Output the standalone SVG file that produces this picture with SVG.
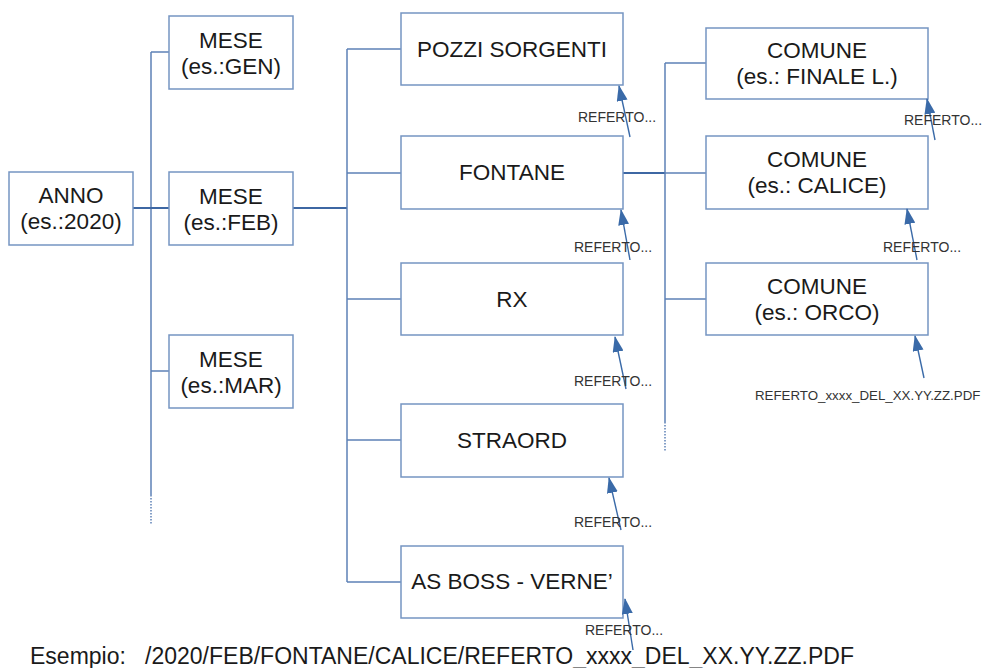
<svg xmlns="http://www.w3.org/2000/svg" width="993" height="668" viewBox="0 0 993 668">
<style>
.box{fill:#ffffff;stroke:#7595c2;stroke-width:1.5}
.t{font-family:"Liberation Sans",Arial,sans-serif;font-size:22.5px;fill:#1a1a1a;text-anchor:middle}
.lbl{font-family:"Liberation Sans",Arial,sans-serif;font-size:14px;fill:#333333}
.lbl2{font-family:"Liberation Sans",Arial,sans-serif;font-size:13.3px;fill:#333333}
.c{stroke:#5d81b6;stroke-width:1.5;fill:none}
.ct{stroke:#3d67a3;stroke-width:2.2;fill:none}
.dot{stroke:#5d81b6;stroke-width:1.5;stroke-dasharray:1.5 1.5;fill:none}
.ar{stroke:#3a6aa8;stroke-width:1.4;fill:none;marker-end:url(#ah)}
.ex{font-family:"Liberation Sans",Arial,sans-serif;font-size:23px;fill:#1a1a1a}
</style>
<defs>
<marker id="ah" markerUnits="userSpaceOnUse" markerWidth="16" markerHeight="11" refX="15" refY="5.5" orient="auto">
<path d="M0,0 L16,5.5 L0,11 Z" fill="#3a6aa8"/>
</marker>
</defs>
<rect width="993" height="668" fill="#ffffff"/>
<g id="connectors">
<line class="c" x1="151" y1="52" x2="151" y2="495"/>
<line class="dot" x1="151" y1="495" x2="151" y2="524"/>
<line class="c" x1="151" y1="52" x2="169" y2="52"/>
<line class="c" x1="151" y1="371" x2="169" y2="371"/>
<line class="ct" x1="133" y1="208" x2="169" y2="208"/>
<line class="ct" x1="293" y1="208" x2="347" y2="208"/>
<line class="c" x1="347" y1="49" x2="347" y2="582"/>
<line class="c" x1="347" y1="49" x2="401" y2="49"/>
<line class="c" x1="347" y1="173" x2="401" y2="173"/>
<line class="c" x1="347" y1="299" x2="401" y2="299"/>
<line class="c" x1="347" y1="440" x2="401" y2="440"/>
<line class="c" x1="347" y1="582" x2="401" y2="582"/>
<line class="ct" x1="623" y1="173" x2="665" y2="173"/>
<line class="c" x1="665" y1="63" x2="665" y2="422"/>
<line class="dot" x1="665" y1="422" x2="665" y2="452"/>
<line class="c" x1="665" y1="63" x2="706" y2="63"/>
<line class="c" x1="665" y1="173" x2="706" y2="173"/>
<line class="c" x1="665" y1="299" x2="706" y2="299"/>
</g>
<g id="anno"><rect class="box" x="9" y="172" width="124" height="73"/><text class="t" x="71" y="203">ANNO</text><text class="t" x="71" y="229">(es.:2020)</text></g>
<g id="mese-gen"><rect class="box" x="169" y="16" width="124" height="73"/><text class="t" x="231" y="48">MESE</text><text class="t" x="231" y="74">(es.:GEN)</text></g>
<g id="mese-feb"><rect class="box" x="169" y="172" width="124" height="73"/><text class="t" x="231" y="204">MESE</text><text class="t" x="231" y="230">(es.:FEB)</text></g>
<g id="mese-mar"><rect class="box" x="169" y="335" width="124" height="73"/><text class="t" x="231" y="367">MESE</text><text class="t" x="231" y="393">(es.:MAR)</text></g>
<g id="pozzi"><rect class="box" x="401" y="13" width="222" height="72"/><text class="t" x="512" y="57">POZZI SORGENTI</text></g>
<g id="fontane"><rect class="box" x="401" y="136" width="222" height="73"/><text class="t" x="512" y="180">FONTANE</text></g>
<g id="rx"><rect class="box" x="401" y="263" width="222" height="72"/><text class="t" x="512" y="307">RX</text></g>
<g id="straord"><rect class="box" x="401" y="404" width="222" height="73"/><text class="t" x="512" y="448">STRAORD</text></g>
<g id="asboss"><rect class="box" x="401" y="546" width="222" height="72"/><text class="t" x="512" y="589">AS BOSS - VERNE’</text></g>
<g id="comune-finale"><rect class="box" x="706" y="28" width="222" height="71"/><text class="t" x="817" y="58">COMUNE</text><text class="t" x="817" y="84">(es.: FINALE L.)</text></g>
<g id="comune-calice"><rect class="box" x="706" y="136" width="222" height="73"/><text class="t" x="817" y="167">COMUNE</text><text class="t" x="817" y="193">(es.: CALICE)</text></g>
<g id="comune-orco"><rect class="box" x="706" y="263" width="222" height="72"/><text class="t" x="817" y="294">COMUNE</text><text class="t" x="817" y="320">(es.: ORCO)</text></g>
<g id="referti">
<path class="ar" d="M630,137 L619,86"/>
<text class="lbl" x="578" y="122">REFERTO...</text>
<path class="ar" d="M630,260 L621,210"/>
<text class="lbl" x="574" y="252">REFERTO...</text>
<path class="ar" d="M626,389 L615,337"/>
<text class="lbl" x="574" y="386">REFERTO...</text>
<path class="ar" d="M621,530 L609,478"/>
<text class="lbl" x="574" y="527">REFERTO...</text>
<path class="ar" d="M633,650 L625,599"/>
<text class="lbl" x="585" y="635">REFERTO...</text>
<path class="ar" d="M935,140 L927,99"/>
<text class="lbl" x="904" y="125">REFERTO...</text>
<path class="ar" d="M917,260 L907,209"/>
<text class="lbl" x="883" y="252">REFERTO...</text>
<path class="ar" d="M924,378 L915,336"/>
<text class="lbl2" x="755" y="400">REFERTO_xxxx_DEL_XX.YY.ZZ.PDF</text>
</g>
<text class="ex" x="30" y="664" xml:space="preserve">Esempio:   /2020/FEB/FONTANE/CALICE/REFERTO_xxxx_DEL_XX.YY.ZZ.PDF</text>
</svg>
